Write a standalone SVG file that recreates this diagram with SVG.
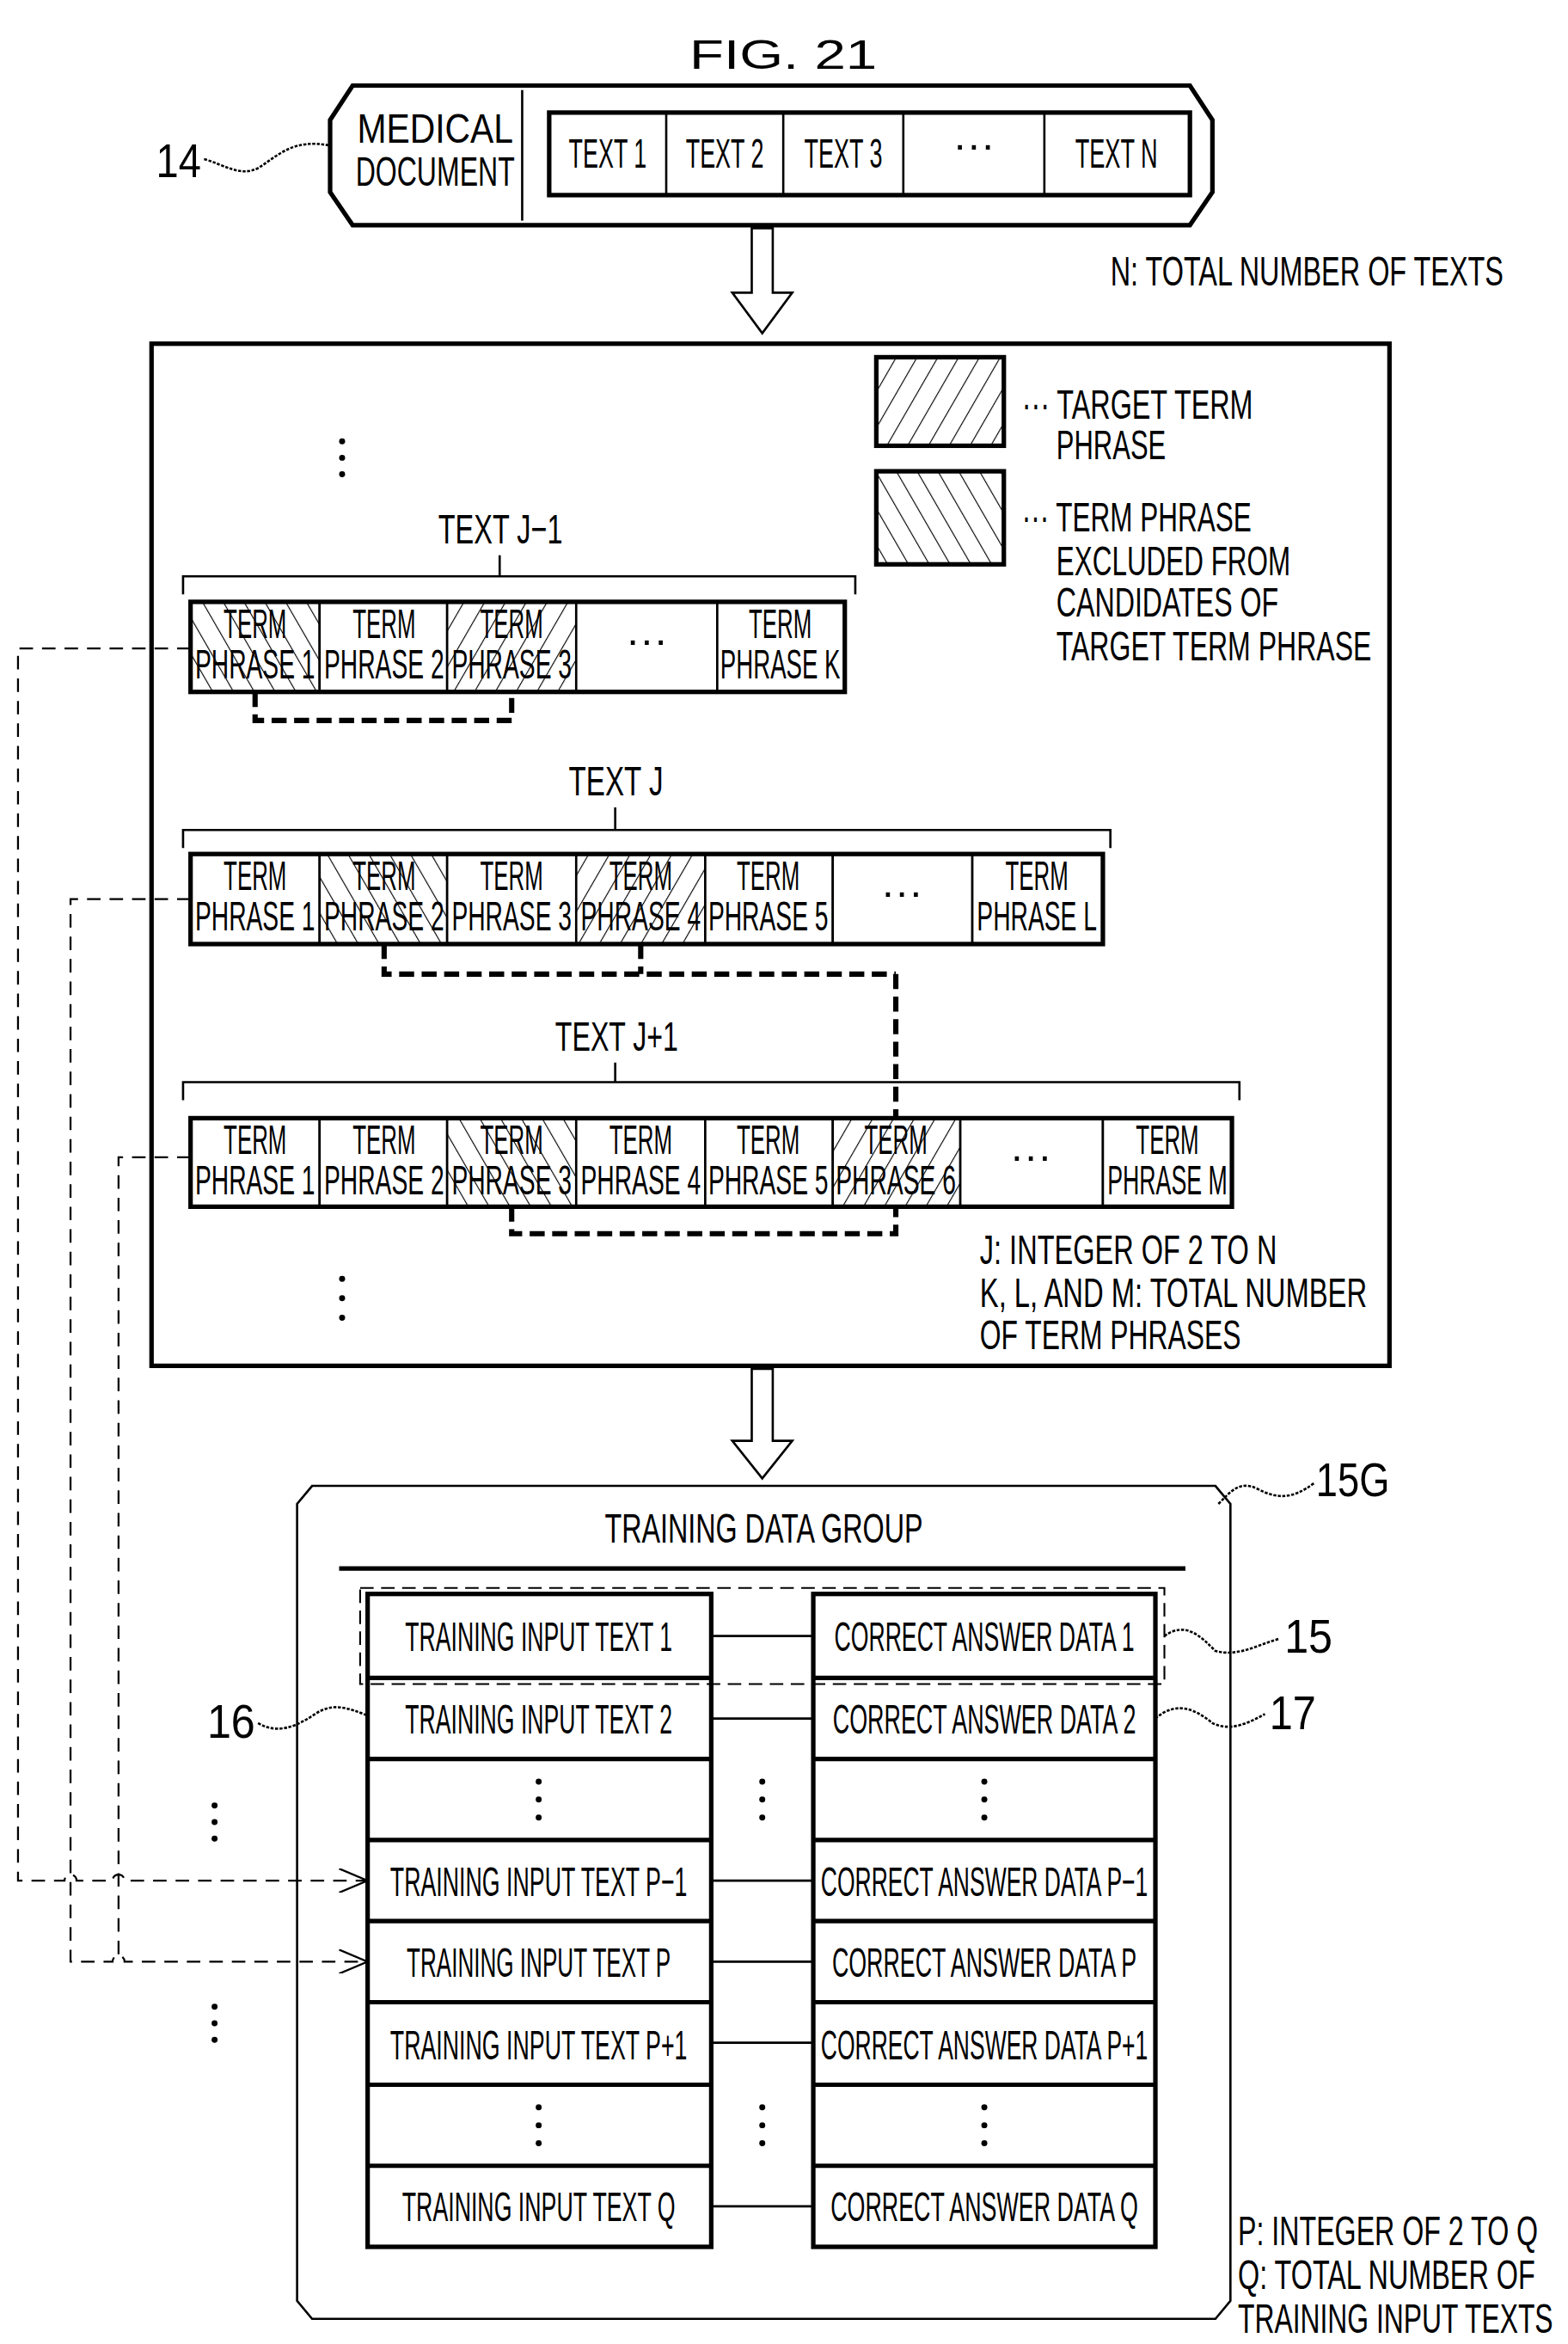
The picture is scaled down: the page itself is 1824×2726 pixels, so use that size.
<svg xmlns="http://www.w3.org/2000/svg" width="1824" height="2726" viewBox="0 0 1824 2726">
<style>
text{font-family:"Liberation Sans",Arial,sans-serif;fill:#000;font-size:28px}
.c{text-anchor:middle}
.thick{fill:none;stroke:#000;stroke-width:3}
.thin{fill:none;stroke:#000;stroke-width:1.5}
.cell{fill:#fff;stroke:#000;stroke-width:1.5}
.link{fill:none;stroke:#000;stroke-width:3.5;stroke-dasharray:10 5}
.ldash{fill:none;stroke:#000;stroke-width:1.3;stroke-dasharray:9 6}
.big{font-size:32px}
</style>
<defs>
<pattern id="tgt" patternUnits="userSpaceOnUse" width="12" height="12" patternTransform="rotate(30)">
<rect width="12" height="12" fill="#fff"/><line x1="0" y1="0" x2="0" y2="12" stroke="#000" stroke-width="1.3"/></pattern>
<pattern id="exc" patternUnits="userSpaceOnUse" width="12" height="12" patternTransform="rotate(-30)">
<rect width="12" height="12" fill="#fff"/><line x1="0" y1="0" x2="0" y2="12" stroke="#000" stroke-width="1.3"/></pattern>
<marker id="oa" viewBox="0 0 20 16" refX="19" refY="8" markerWidth="20" markerHeight="16" markerUnits="userSpaceOnUse" orient="auto">
<path d="M0,0 L19,8 L0,16" fill="none" stroke="#000" stroke-width="1.3"/></marker>
</defs>
<rect width="1824" height="2726" fill="#fff"/>
<g transform="scale(1.7455)">
<text class="c" x="522" y="46" font-size="54" textLength="125" lengthAdjust="spacingAndGlyphs">FIG. 21</text>

<g id="medical-document">
<path class="thick" d="M235,57 H793 L808,80 V128 L793,150 H235 L220,128 V80 Z"/>
<line x1="348" y1="60" x2="348" y2="147" class="thin"/>
<text class="c" x="290" y="95" textLength="104" lengthAdjust="spacingAndGlyphs">MEDICAL</text>
<text class="c" x="290" y="124" textLength="106" lengthAdjust="spacingAndGlyphs">DOCUMENT</text>
<rect x="366" y="75" width="427" height="55" class="thick" fill="#fff"/>
<line x1="444" y1="75" x2="444" y2="130" class="thin"/><line x1="522" y1="75" x2="522" y2="130" class="thin"/>
<line x1="602" y1="75" x2="602" y2="130" class="thin"/><line x1="696" y1="75" x2="696" y2="130" class="thin"/>
<text class="c" x="405" y="112" textLength="52" lengthAdjust="spacingAndGlyphs">TEXT 1</text>
<text class="c" x="483" y="112" textLength="52" lengthAdjust="spacingAndGlyphs">TEXT 2</text>
<text class="c" x="562" y="112" textLength="52" lengthAdjust="spacingAndGlyphs">TEXT 3</text>
<text class="c" x="649" y="106">···</text>
<text class="c" x="744" y="112" textLength="55" lengthAdjust="spacingAndGlyphs">TEXT N</text>
<text x="104" y="118" class="big" textLength="30" lengthAdjust="spacingAndGlyphs">14</text>
<path d="M136,106 C150,110 160,118 172,112 C185,104 195,92 220,97" class="thin" stroke-dasharray="2 1"/>
</g>
<text x="740" y="190" textLength="262" lengthAdjust="spacingAndGlyphs">N: TOTAL NUMBER OF TEXTS</text>

<g id="arrows">
<path d="M501,152 H515 V195 H528 L508,222 L488,195 H501 Z" class="thin" fill="#fff"/>
<path d="M501,912 H515 V960 H528 L508,985 L488,960 H501 Z" class="thin" fill="#fff"/>
</g>

<g id="extraction-box">
<rect x="101" y="229" width="825" height="681" class="thick" fill="none"/>
<rect x="584" y="238" width="85" height="59" fill="url(#tgt)" stroke="#000" stroke-width="3"/>
<rect x="584" y="314" width="85" height="62" fill="url(#exc)" stroke="#000" stroke-width="3"/>
<text x="681" y="279" textLength="154" lengthAdjust="spacingAndGlyphs">··· TARGET TERM</text>
<text x="704" y="306" textLength="73" lengthAdjust="spacingAndGlyphs">PHRASE</text>
<text x="681" y="354" textLength="153" lengthAdjust="spacingAndGlyphs">··· TERM PHRASE</text>
<text x="704" y="383" textLength="156" lengthAdjust="spacingAndGlyphs">EXCLUDED FROM</text>
<text x="704" y="411" textLength="148" lengthAdjust="spacingAndGlyphs">CANDIDATES OF</text>
<text x="704" y="440" textLength="210" lengthAdjust="spacingAndGlyphs">TARGET TERM PHRASE</text>
<g fill="#000"><circle cx="228" cy="294" r="2"/><circle cx="228" cy="305" r="2"/><circle cx="228" cy="316" r="2"/>
<circle cx="228" cy="852" r="2"/><circle cx="228" cy="865" r="2"/><circle cx="228" cy="878" r="2"/></g>
<text x="653" y="842" textLength="198" lengthAdjust="spacingAndGlyphs">J: INTEGER OF 2 TO N</text>
<text x="653" y="871" textLength="258" lengthAdjust="spacingAndGlyphs">K, L, AND M: TOTAL NUMBER</text>
<text x="653" y="899" textLength="174" lengthAdjust="spacingAndGlyphs">OF TERM PHRASES</text>
</g>

<g id="text-j-1">
<text x="292" y="362" textLength="83" lengthAdjust="spacingAndGlyphs">TEXT J−1</text>
<path class="thin" d="M333,370 V384 M122,396 V384 H570 V396"/>
<rect x="127" y="401" width="86" height="60" fill="url(#exc)" stroke="#000" stroke-width="1.5"/>
<rect x="213" y="401" width="85" height="60" class="cell"/>
<rect x="298" y="401" width="86" height="60" fill="url(#tgt)" stroke="#000" stroke-width="1.5"/>
<rect x="384" y="401" width="94" height="60" class="cell"/>
<rect x="478" y="401" width="85" height="60" class="cell"/>
<rect x="127" y="401" width="436" height="60" class="thick"/>
<g class="c">
<text x="170" y="425" textLength="42" lengthAdjust="spacingAndGlyphs">TERM</text><text x="170" y="452" textLength="80" lengthAdjust="spacingAndGlyphs">PHRASE 1</text>
<text x="256" y="425" textLength="42" lengthAdjust="spacingAndGlyphs">TERM</text><text x="256" y="452" textLength="80" lengthAdjust="spacingAndGlyphs">PHRASE 2</text>
<text x="341" y="425" textLength="42" lengthAdjust="spacingAndGlyphs">TERM</text><text x="341" y="452" textLength="80" lengthAdjust="spacingAndGlyphs">PHRASE 3</text>
<text x="431" y="436">···</text>
<text x="520" y="425" textLength="42" lengthAdjust="spacingAndGlyphs">TERM</text><text x="520" y="452" textLength="80" lengthAdjust="spacingAndGlyphs">PHRASE K</text>
</g>
</g>

<g id="text-j">
<text x="379" y="530" textLength="63" lengthAdjust="spacingAndGlyphs">TEXT J</text>
<path class="thin" d="M410,538 V553 M122,565 V553 H740 V565"/>
<rect x="127" y="569" width="86" height="60" class="cell"/>
<rect x="213" y="569" width="85" height="60" fill="url(#exc)" stroke="#000" stroke-width="1.5"/>
<rect x="298" y="569" width="86" height="60" class="cell"/>
<rect x="384" y="569" width="86" height="60" fill="url(#tgt)" stroke="#000" stroke-width="1.5"/>
<rect x="470" y="569" width="85" height="60" class="cell"/>
<rect x="555" y="569" width="93" height="60" class="cell"/>
<rect x="648" y="569" width="87" height="60" class="cell"/>
<rect x="127" y="569" width="608" height="60" class="thick"/>
<g class="c">
<text x="170" y="593" textLength="42" lengthAdjust="spacingAndGlyphs">TERM</text><text x="170" y="620" textLength="80" lengthAdjust="spacingAndGlyphs">PHRASE 1</text>
<text x="256" y="593" textLength="42" lengthAdjust="spacingAndGlyphs">TERM</text><text x="256" y="620" textLength="80" lengthAdjust="spacingAndGlyphs">PHRASE 2</text>
<text x="341" y="593" textLength="42" lengthAdjust="spacingAndGlyphs">TERM</text><text x="341" y="620" textLength="80" lengthAdjust="spacingAndGlyphs">PHRASE 3</text>
<text x="427" y="593" textLength="42" lengthAdjust="spacingAndGlyphs">TERM</text><text x="427" y="620" textLength="80" lengthAdjust="spacingAndGlyphs">PHRASE 4</text>
<text x="512" y="593" textLength="42" lengthAdjust="spacingAndGlyphs">TERM</text><text x="512" y="620" textLength="80" lengthAdjust="spacingAndGlyphs">PHRASE 5</text>
<text x="601" y="604">···</text>
<text x="691" y="593" textLength="42" lengthAdjust="spacingAndGlyphs">TERM</text><text x="691" y="620" textLength="80" lengthAdjust="spacingAndGlyphs">PHRASE L</text>
</g>
</g>

<g id="text-j1">
<text x="370" y="700" textLength="82" lengthAdjust="spacingAndGlyphs">TEXT J+1</text>
<path class="thin" d="M410,708 V721 M122,733 V721 H826 V733"/>
<rect x="127" y="745" width="86" height="59" class="cell"/>
<rect x="213" y="745" width="85" height="59" class="cell"/>
<rect x="298" y="745" width="86" height="59" fill="url(#exc)" stroke="#000" stroke-width="1.5"/>
<rect x="384" y="745" width="86" height="59" class="cell"/>
<rect x="470" y="745" width="85" height="59" class="cell"/>
<rect x="555" y="745" width="85" height="59" fill="url(#tgt)" stroke="#000" stroke-width="1.5"/>
<rect x="640" y="745" width="95" height="59" class="cell"/>
<rect x="735" y="745" width="86" height="59" class="cell"/>
<rect x="127" y="745" width="694" height="59" class="thick"/>
<g class="c">
<text x="170" y="769" textLength="42" lengthAdjust="spacingAndGlyphs">TERM</text><text x="170" y="796" textLength="80" lengthAdjust="spacingAndGlyphs">PHRASE 1</text>
<text x="256" y="769" textLength="42" lengthAdjust="spacingAndGlyphs">TERM</text><text x="256" y="796" textLength="80" lengthAdjust="spacingAndGlyphs">PHRASE 2</text>
<text x="341" y="769" textLength="42" lengthAdjust="spacingAndGlyphs">TERM</text><text x="341" y="796" textLength="80" lengthAdjust="spacingAndGlyphs">PHRASE 3</text>
<text x="427" y="769" textLength="42" lengthAdjust="spacingAndGlyphs">TERM</text><text x="427" y="796" textLength="80" lengthAdjust="spacingAndGlyphs">PHRASE 4</text>
<text x="512" y="769" textLength="42" lengthAdjust="spacingAndGlyphs">TERM</text><text x="512" y="796" textLength="80" lengthAdjust="spacingAndGlyphs">PHRASE 5</text>
<text x="597" y="769" textLength="42" lengthAdjust="spacingAndGlyphs">TERM</text><text x="597" y="796" textLength="80" lengthAdjust="spacingAndGlyphs">PHRASE 6</text>
<text x="687" y="780">···</text>
<text x="778" y="769" textLength="42" lengthAdjust="spacingAndGlyphs">TERM</text><text x="778" y="796" textLength="80" lengthAdjust="spacingAndGlyphs">PHRASE M</text>
</g>
</g>

<g id="training-data-group">
<path class="thin" d="M208,990 H810 L820,1002 V1533 L810,1545 H208 L198,1533 V1002 Z"/>
<text class="c" x="509" y="1028" textLength="212" lengthAdjust="spacingAndGlyphs">TRAINING DATA GROUP</text>
<line x1="226" y1="1045" x2="790" y2="1045" stroke="#000" stroke-width="3"/>
<text x="877" y="997" class="big" textLength="49" lengthAdjust="spacingAndGlyphs">15G</text>
<path d="M812,1002 C820,994 826,986 838,992 C850,998 860,1000 876,988" class="thin" stroke-dasharray="2 1"/>
<rect x="240" y="1058" width="536" height="64" fill="none" stroke="#000" stroke-width="1.2" stroke-dasharray="9 5"/>
<g id="left-col">
<rect x="245" y="1062" width="229" height="435" class="thick" fill="#fff"/>
<path d="M245,1118 H474 M245,1172 H474 M245,1226 H474 M245,1280 H474 M245,1334 H474 M245,1389 H474 M245,1443 H474" stroke="#000" stroke-width="3"/>
</g>
<g id="right-col">
<rect x="542" y="1062" width="228" height="435" class="thick" fill="#fff"/>
<path d="M542,1118 H770 M542,1172 H770 M542,1226 H770 M542,1280 H770 M542,1334 H770 M542,1389 H770 M542,1443 H770" stroke="#000" stroke-width="3"/>
</g>
<g class="c">
<text x="359" y="1100" textLength="178" lengthAdjust="spacingAndGlyphs">TRAINING INPUT TEXT 1</text>
<text x="359" y="1155" textLength="178" lengthAdjust="spacingAndGlyphs">TRAINING INPUT TEXT 2</text>
<text x="359" y="1263" textLength="198" lengthAdjust="spacingAndGlyphs">TRAINING INPUT TEXT P−1</text>
<text x="359" y="1317" textLength="176" lengthAdjust="spacingAndGlyphs">TRAINING INPUT TEXT P</text>
<text x="359" y="1372" textLength="198" lengthAdjust="spacingAndGlyphs">TRAINING INPUT TEXT P+1</text>
<text x="359" y="1480" textLength="182" lengthAdjust="spacingAndGlyphs">TRAINING INPUT TEXT Q</text>
<text x="656" y="1100" textLength="200" lengthAdjust="spacingAndGlyphs">CORRECT ANSWER DATA 1</text>
<text x="656" y="1155" textLength="202" lengthAdjust="spacingAndGlyphs">CORRECT ANSWER DATA 2</text>
<text x="656" y="1263" textLength="218" lengthAdjust="spacingAndGlyphs">CORRECT ANSWER DATA P−1</text>
<text x="656" y="1317" textLength="203" lengthAdjust="spacingAndGlyphs">CORRECT ANSWER DATA P</text>
<text x="656" y="1372" textLength="218" lengthAdjust="spacingAndGlyphs">CORRECT ANSWER DATA P+1</text>
<text x="656" y="1480" textLength="205" lengthAdjust="spacingAndGlyphs">CORRECT ANSWER DATA Q</text>
</g>
<g fill="#000">
<circle cx="359" cy="1187" r="2"/><circle cx="359" cy="1199" r="2"/><circle cx="359" cy="1211" r="2"/>
<circle cx="656" cy="1187" r="2"/><circle cx="656" cy="1199" r="2"/><circle cx="656" cy="1211" r="2"/>
<circle cx="508" cy="1187" r="2"/><circle cx="508" cy="1199" r="2"/><circle cx="508" cy="1211" r="2"/>
<circle cx="359" cy="1404" r="2"/><circle cx="359" cy="1416" r="2"/><circle cx="359" cy="1428" r="2"/>
<circle cx="656" cy="1404" r="2"/><circle cx="656" cy="1416" r="2"/><circle cx="656" cy="1428" r="2"/>
<circle cx="508" cy="1404" r="2"/><circle cx="508" cy="1416" r="2"/><circle cx="508" cy="1428" r="2"/>
<circle cx="143" cy="1203" r="2"/><circle cx="143" cy="1214" r="2"/><circle cx="143" cy="1225" r="2"/>
<circle cx="143" cy="1337" r="2"/><circle cx="143" cy="1348" r="2"/><circle cx="143" cy="1359" r="2"/>
</g>
<text x="856" y="1101" class="big" textLength="32" lengthAdjust="spacingAndGlyphs">15</text>
<path d="M776,1090 C790,1080 800,1090 810,1100 C825,1104 838,1096 852,1092" class="thin" stroke-dasharray="2 1"/>
<text x="138" y="1158" class="big" textLength="32" lengthAdjust="spacingAndGlyphs">16</text>
<path d="M172,1148 C185,1156 198,1150 210,1142 C222,1134 232,1138 245,1143" class="thin" stroke-dasharray="2 1"/>
<text x="846" y="1152" class="big" textLength="31" lengthAdjust="spacingAndGlyphs">17</text>
<path d="M770,1145 C785,1132 798,1140 808,1148 C820,1154 832,1148 843,1142" class="thin" stroke-dasharray="2 1"/>
<text x="825" y="1496" textLength="200" lengthAdjust="spacingAndGlyphs">P: INTEGER OF 2 TO Q</text>
<text x="825" y="1525" textLength="198" lengthAdjust="spacingAndGlyphs">Q: TOTAL NUMBER OF</text>
<text x="825" y="1554" textLength="210" lengthAdjust="spacingAndGlyphs">TRAINING INPUT TEXTS</text>
</g>

<g id="connectors">
<path class="thin" d="M474,1090 H542 M474,1145 H542 M474,1253 H542 M474,1307 H542 M474,1361 H542 M474,1470 H542"/>
<path class="link" d="M170,461 V480 H341 V461"/>
<path class="link" d="M256,629 V649 H597 M427,629 V649 M597,649 V745"/>
<path class="link" d="M341,804 V822 H597 V804"/>
<path class="ldash" d="M127,432 H12 V1253 H43 a4,4 0 0 1 8,0 H75 a4,4 0 0 1 8,0 H245" marker-end="url(#oa)"/>
<path class="ldash" d="M127,599 H47 V1307 H75 a4,4 0 0 1 8,0 H245" marker-end="url(#oa)"/>
<path class="ldash" d="M127,771 H79 V1307"/>
</g>
</g>
</svg>
